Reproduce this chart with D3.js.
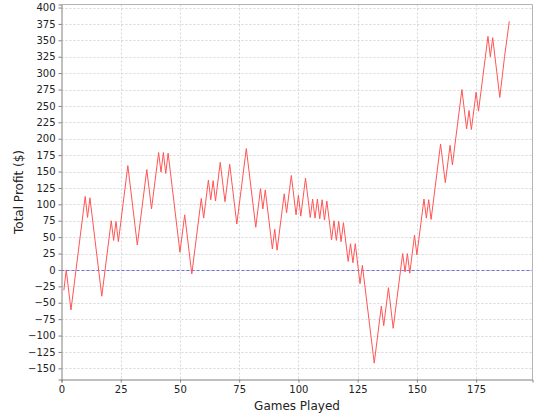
<!DOCTYPE html>
<html>
<head>
<meta charset="utf-8">
<script src="https://cdn.jsdelivr.net/npm/d3@7"></script>
<style>
  html, body { margin: 0; padding: 0; background: #fff; }
  svg { display: block; }
  text { font-family: "DejaVu Sans", sans-serif; fill: #222; }
</style>
</head>
<body>
<svg id="chart" width="540" height="420"></svg>
<script>
// Turning points of the cumulative profit line (game number, profit in $)
const games  = [1, 2, 4, 10, 11, 12, 17, 21, 22, 23, 24, 28, 32, 36, 38, 41, 42, 43, 44, 45,
                50, 52, 55, 59, 60, 62, 63, 64, 65, 67, 69, 71, 74, 78, 82, 84, 85, 86, 89, 90,
                91, 94, 95, 97, 99, 100, 101, 103, 105, 106, 107, 108, 109, 110, 111, 112, 114, 115, 116, 117,
                118, 119, 121, 122, 123, 124, 126, 127, 132, 135, 136, 138, 140, 144, 145, 146, 147, 149, 150, 153,
                154, 155, 156, 160, 162, 164, 165, 169, 171, 172, 173, 175, 176, 180, 181, 182, 185, 187, 189];
const profit = [-31, 0, -61, 112, 80, 110, -40, 75, 45, 74, 43, 159, 38, 153, 93, 179, 149, 179, 147, 178,
                27, 84, -6, 109, 79, 137, 107, 136, 105, 164, 104, 161, 70, 185, 65, 124, 93, 122, 32, 62,
                30, 116, 87, 144, 84, 114, 82, 140, 80, 108, 79, 108, 78, 107, 76, 105, 46, 75, 45, 74,
                43, 72, 13, 40, 11, 40, -21, 7, -142, -55, -85, -27, -89, 25, -3, 25, -5, 53, 23, 108,
                79, 107, 77, 192, 133, 190, 160, 275, 215, 243, 214, 271, 242, 356, 325, 354, 263, 325, 379];
const xTicks = [0, 25, 50, 75, 100, 125, 150, 175];
const yTicks = [-150, -125, -100, -75, -50, -25, 0, 25, 50, 75, 100, 125, 150, 175, 200, 225, 250, 275, 300, 325, 350, 375, 400];
const xTitle = "Games Played";
const yTitle = "Total Profit ($)";

const svg = d3.select("#chart");
const pL = 61.5, pR = 532.5, pT = 4.5, pB = 379.5;

const x = d3.scaleLinear().domain([0, 198.8]).range([pL, pR]);
const y = d3.scaleLinear().domain([-167, 404.6]).range([pB, pT]);

// grid
const grid = svg.append("g");
grid.selectAll("line.v").data(xTicks.filter(d => d > 0)).join("line")
  .attr("x1", d => Math.round(x(d)) + 0.5).attr("x2", d => Math.round(x(d)) + 0.5)
  .attr("y1", pT).attr("y2", pB)
  .attr("stroke", "#d6d6d6").attr("stroke-width", 1).attr("stroke-dasharray", "2,2");
grid.selectAll("line.h").data(yTicks).join("line")
  .attr("x1", pL).attr("x2", pR)
  .attr("y1", d => Math.round(y(d)) + 0.5).attr("y2", d => Math.round(y(d)) + 0.5)
  .attr("stroke", "#d6d6d6").attr("stroke-width", 1).attr("stroke-dasharray", "2,2");

// zero baseline
svg.append("line")
  .attr("x1", pL).attr("x2", pR)
  .attr("y1", Math.round(y(0)) + 0.5).attr("y2", Math.round(y(0)) + 0.5)
  .attr("stroke", "#6f6fe0").attr("stroke-width", 1).attr("stroke-dasharray", "3,2");

// outline top/right
svg.append("path")
  .attr("d", `M${pL},${pT}H${pR}V${pB}`)
  .attr("fill", "none").attr("stroke", "#b4b4b4").attr("stroke-width", 1);

// data line
const line = d3.line().x((d, i) => x(games[i])).y(d => y(d));
svg.append("path")
  .datum(profit)
  .attr("d", line)
  .attr("fill", "none")
  .attr("stroke", "#ff5555")
  .attr("stroke-width", 1);

// axes
const fmt = d => d3.format("d")(d).replace("-", "\u2212");
const xAxis = svg.append("g").attr("transform", `translate(0,${pB})`)
  .call(d3.axisBottom(x).tickValues(xTicks).tickSize(3).tickPadding(3).tickFormat(fmt));
const yAxis = svg.append("g").attr("transform", `translate(${pL},0)`)
  .call(d3.axisLeft(y).tickValues(yTicks).tickSize(3).tickPadding(3).tickFormat(fmt));
[xAxis, yAxis].forEach(a => {
  a.select(".domain").attr("stroke", "#808080");
  a.selectAll(".tick line").attr("stroke", "#808080");
  a.selectAll(".tick text").attr("font-family", "DejaVu Sans, sans-serif").attr("font-size", 10).attr("fill", "#222");
});

svg.append("text")
  .attr("x", (pL + pR) / 2).attr("y", 410)
  .attr("text-anchor", "middle").attr("font-size", 12)
  .text(xTitle);
svg.append("text")
  .attr("transform", `translate(23,${(pT + pB) / 2}) rotate(-90)`)
  .attr("text-anchor", "middle").attr("font-size", 12)
  .text(yTitle);
</script>
</body>
</html>
